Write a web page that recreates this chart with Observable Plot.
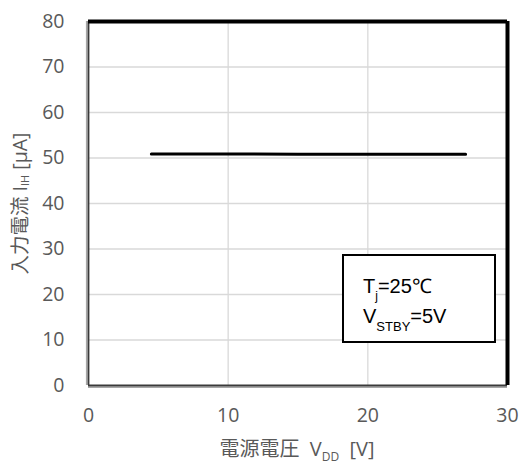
<!DOCTYPE html>
<html><head><meta charset="utf-8">
<script src="https://cdn.jsdelivr.net/npm/d3@7"></script>
<script src="https://cdn.jsdelivr.net/npm/@observablehq/plot@0.6"></script>
<style>body{margin:0;background:#fff;} svg{display:block}</style>
</head><body><div id="chart"></div>
<script>
// data
const vdd = [4.5, 10, 15, 20, 25, 27];
const iih = [50.9, 50.9, 50.8, 50.8, 50.8, 50.8];
const xTicks = [0, 10, 20, 30];
const yTicks = [0, 10, 20, 30, 40, 50, 60, 70, 80];
const xGrid = [10, 20];
const yGrid = [10, 20, 30, 40, 50, 60, 70];
const xLabelParts = [["電源電圧  V", 0], ["DD", 1], ["  [V]", 0]];
const yLabelParts = [["入力電流 I", 0], ["IH", 1], [" [μA]", 0]];
const legendLine1 = [["T", 0], ["j", 1], ["=25℃", 0]];
const legendLine2 = [["V", 0], ["STBY", 1], ["=5V", 0]];

const data = vdd.map((v, i) => ({vdd: v, iih: iih[i]}));
const grey = "#595959";
const font = "'Open Sans', 'Noto Sans CJK JP', sans-serif";

const plot = Plot.plot({
  width: 521, height: 465,
  marginLeft: 88, marginRight: 14, marginTop: 21, marginBottom: 80,
  style: {fontFamily: font, fontSize: "19.5px", color: grey, background: "#fff"},
  x: {domain: [0, 30], label: null},
  y: {domain: [0, 80], label: null},
  marks: [
    Plot.gridX(xGrid, {stroke: "#d9d9d9", strokeOpacity: 1, strokeWidth: 1.3}),
    Plot.gridY(yGrid, {stroke: "#d9d9d9", strokeOpacity: 1, strokeWidth: 1.3}),
    Plot.axisX(xTicks, {tickSize: 0, tickPadding: 23, label: null, fontSize: 19.5}),
    Plot.axisY(yTicks, {tickSize: 0, tickPadding: 24, label: null, fontSize: 19.5}),
    Plot.lineY(data, {x: "vdd", y: "iih", stroke: "#000", strokeWidth: 3, strokeLinecap: "round"}),
    // frame
    Plot.ruleX([0], {stroke: "#a6a6a6", strokeWidth: 1.6, dx: -1.8}),
    Plot.ruleY([0], {stroke: "#a6a6a6", strokeWidth: 1.6, dy: 1.8}),
    Plot.ruleX([0], {stroke: "#3a3a3a", strokeWidth: 1.8}),
    Plot.ruleY([0], {stroke: "#3a3a3a", strokeWidth: 2.2}),
    Plot.ruleY([80], {stroke: "#000", strokeWidth: 4}),
    Plot.ruleX([30], {stroke: "#000", strokeWidth: 4})
  ]
});
document.getElementById("chart").appendChild(plot);

const svg = d3.select(plot);
function addParts(sel, parts, subSize, shift) {
  let cur = 0;
  parts.forEach(([t, sub]) => {
    const target = sub ? shift : 0;
    const ts = sel.append("tspan").text(t).attr("dy", target - cur);
    if (sub) ts.attr("font-size", subSize);
    cur = target;
  });
}
// y label
const yl = svg.append("text")
  .attr("transform", "translate(27,203.5) rotate(-90)")
  .attr("text-anchor", "middle").attr("fill", grey)
  .attr("font-family", font).attr("font-size", 19.5).style("white-space", "pre");
addParts(yl, yLabelParts, 11, 1.5);
// x label
const xl = svg.append("text")
  .attr("x", 297).attr("y", 456)
  .attr("text-anchor", "middle").attr("fill", grey)
  .attr("font-family", font).attr("font-size", 20).style("white-space", "pre");
addParts(xl, xLabelParts, 12, 5);
// annotation box
svg.append("rect").attr("x", 343).attr("y", 255).attr("width", 152).attr("height", 87)
  .attr("fill", "#fff").attr("stroke", "#000").attr("stroke-width", 2);
const lf = "'Liberation Sans', Arial, sans-serif";
const l1 = svg.append("text").attr("x", 363).attr("y", 293).attr("fill", "#000")
  .attr("text-anchor", "start").attr("font-family", lf).attr("font-size", 20);
addParts(l1, legendLine1, 12, 7);
const l2 = svg.append("text").attr("x", 363).attr("y", 323).attr("fill", "#000")
  .attr("text-anchor", "start").attr("font-family", lf).attr("font-size", 20);
addParts(l2, legendLine2, 13, 8);
</script>
</body></html>
